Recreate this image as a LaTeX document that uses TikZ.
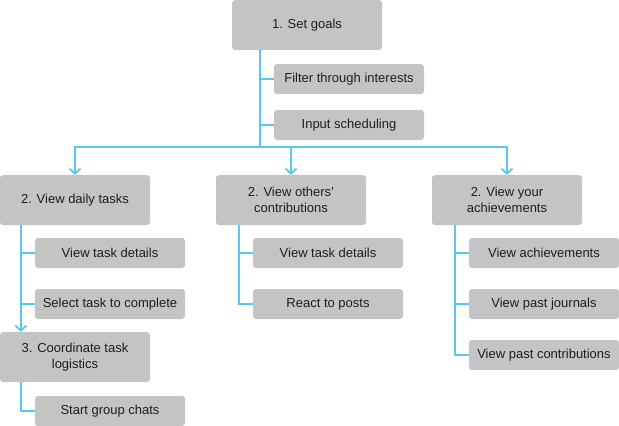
\documentclass[tikz,border=0pt]{standalone}
\usepackage{fontspec}
\setmainfont{Liberation Sans}
\usetikzlibrary{arrows.meta}
\definecolor{boxgray}{HTML}{C4C4C4}
\definecolor{linkblue}{HTML}{55C8EE}
\definecolor{txt}{HTML}{1E1E1E}
\begin{document}
\begin{tikzpicture}[x=1pt,y=-1pt,
  box/.style={rectangle,rounded corners=3pt,fill=boxgray,text=txt,inner sep=0pt,
    minimum width=150pt,minimum height=50pt,align=center,font=\fontsize{13}{16.5}\selectfont},
  subbox/.style={box,minimum height=30pt},
  link/.style={draw=linkblue,line width=1.8pt},
  arr/.style={link,-{Straight Barb[length=5pt,width=11pt,line width=1.8pt]}}]
\useasboundingbox (0,0) rectangle (619,426);
\node[box] (goals) at (307,25) {1. Set goals};
\node[subbox] (filt) at (349,79) {Filter through interests};
\node[subbox] (sched) at (349,125) {Input scheduling};
\node[box] (daily) at (75,200) {2. View daily tasks};
\node[box] (others) at (291,200) {2. View others’\\contributions};
\node[box] (achv) at (507,200) {2. View your\\achievements};
\node[subbox] (dtask) at (110,253) {View task details};
\node[subbox] (dsel) at (110,304) {Select task to complete};
\node[box] (coord) at (75,357) {3. Coordinate task\\logistics};
\node[subbox] (chats) at (110,411) {Start group chats};
\node[subbox] (otask) at (328,253) {View task details};
\node[subbox] (react) at (328,304) {React to posts};
\node[subbox] (vach) at (544,253) {View achievements};
\node[subbox] (vjour) at (544,304) {View past journals};
\node[subbox] (vcontr) at (544,355) {View past contributions};
\coordinate (trunk) at (260,147);
\draw[link] (goals.south -| trunk) -- (trunk);
\draw[link] (trunk |- filt) -- (filt.west);
\draw[link] (trunk |- sched) -- (sched.west);
\draw[arr] (trunk) -| (daily.north);
\draw[arr] (trunk) -| (others.north);
\draw[arr] (trunk) -| (achv.north);
\draw[link] ([xshift=21pt]daily.south west) |- (dtask.west);
\draw[link] ([xshift=21pt]daily.south west |- dtask) |- (dsel.west);
\draw[arr] ([xshift=21pt]daily.south west) -- ([xshift=21pt]coord.north west);
\draw[link] ([xshift=21pt]coord.south west) |- (chats.west);
\draw[link] ([xshift=23pt]others.south west) |- (otask.west);
\draw[link] ([xshift=23pt]others.south west) |- (react.west);
\draw[link] ([xshift=23pt]achv.south west) |- (vach.west);
\draw[link] ([xshift=23pt]achv.south west) |- (vjour.west);
\draw[link] ([xshift=23pt]achv.south west) |- (vcontr.west);
\end{tikzpicture}
\end{document}
